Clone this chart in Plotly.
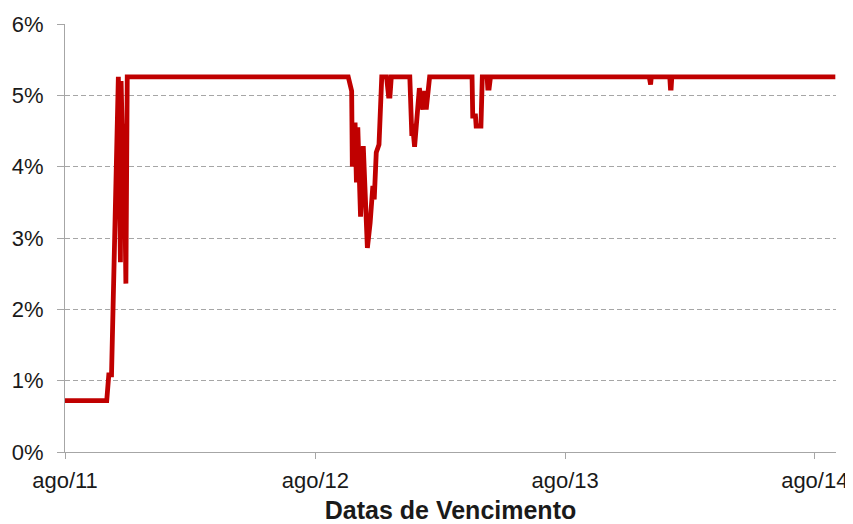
import plotly.graph_objects as go

# Vencimento dates and rates (as fractions)
dates = [
    "2011-08-01", "2011-10-01", "2011-10-04", "2011-10-08", "2011-10-18",
    "2011-10-21", "2011-10-22", "2011-10-25", "2011-10-26", "2011-10-29",
    "2011-10-31",
    "2012-09-18", "2012-09-23", "2012-09-24", "2012-09-28", "2012-09-30",
    "2012-10-02", "2012-10-06", "2012-10-10", "2012-10-16", "2012-10-20",
    "2012-10-24", "2012-10-26", "2012-10-29", "2012-11-02", "2012-11-06",
    "2012-11-13", "2012-11-16", "2012-11-18", "2012-11-20",
    "2012-12-17", "2012-12-20", "2012-12-21", "2012-12-24", "2012-12-28",
    "2012-12-31", "2013-01-05", "2013-01-08", "2013-01-10", "2013-01-15",
    "2013-03-18", "2013-03-19", "2013-03-23", "2013-03-24", "2013-03-31",
    "2013-04-02", "2013-04-09", "2013-04-10", "2013-04-12", "2013-04-14",
    "2013-12-02", "2013-12-03", "2013-12-04", "2013-12-05",
    "2014-01-01", "2014-01-02", "2014-01-03", "2014-01-04",
    "2014-08-31",
]
rates = [
    0.0072, 0.0072, 0.0108, 0.0108, 0.0526,
    0.0266, 0.0520, 0.0390, 0.0460, 0.0236,
    0.0526,
    0.0526, 0.0506, 0.0400, 0.0462, 0.0378,
    0.0455, 0.0330, 0.0429, 0.0286, 0.0321,
    0.0373, 0.0354, 0.0420, 0.0431, 0.0526,
    0.0526, 0.0499, 0.0499, 0.0526,
    0.0526, 0.0443, 0.0460, 0.0428, 0.0480,
    0.0510, 0.0480, 0.0506, 0.0480, 0.0526,
    0.0526, 0.0471, 0.0471, 0.0457, 0.0457,
    0.0526, 0.0526, 0.0510, 0.0510, 0.0526,
    0.0526, 0.0515, 0.0515, 0.0526,
    0.0526, 0.0510, 0.0510, 0.0526,
    0.0526,
]

tick_dates = ["2011-08-01", "2012-08-01", "2013-08-01", "2014-08-01"]
tick_labels = ["ago/11", "ago/12", "ago/13", "ago/14"]
y_ticks = [0, 0.01, 0.02, 0.03, 0.04, 0.05, 0.06]
x_title = "Datas de Vencimento"

font_family = "Liberation Sans, Arial, sans-serif"
axis_color = "#A6A6A6"
text_color = "#1A1A1A"

fig = go.Figure()
fig.add_trace(go.Scatter(
    x=dates, y=rates, mode="lines",
    line=dict(color="#C00000", width=4.8),
    hoverinfo="x+y", showlegend=False,
))

# page body has an 8px margin, so the figure is offset by 8px
fig.update_layout(
    width=845, height=516,
    margin=dict(l=57, r=17, t=16, b=72, pad=0),
    paper_bgcolor="white", plot_bgcolor="white",
    font=dict(family=font_family, size=22, color=text_color),
)

fig.update_xaxes(
    type="date",
    range=["2011-08-01", "2014-09-01"],
    tickmode="array", tickvals=tick_dates, ticktext=tick_labels,
    showgrid=False, zeroline=False,
    showline=True, linecolor=axis_color, linewidth=1.3,
    ticks="outside", ticklen=6, tickcolor=axis_color, tickwidth=1.3,
    ticklabelstandoff=2,
    tickfont=dict(family=font_family, size=22, color=text_color),
    title=dict(text=x_title, standoff=19,
               font=dict(family=font_family, size=25, color=text_color, weight="bold")),
    automargin=False,
)

fig.update_yaxes(
    range=[0, 0.06],
    tickmode="array", tickvals=y_ticks, tickformat=".0%",
    showgrid=True, gridcolor=axis_color, gridwidth=1, griddash="5px,3px",
    zeroline=False,
    showline=True, linecolor=axis_color, linewidth=1.3,
    ticks="outside", ticklen=7, tickcolor=axis_color, tickwidth=1.3,
    ticklabelstandoff=9,
    tickfont=dict(family=font_family, size=22, color=text_color),
    automargin=False,
)

fig.write_html("out.html")
